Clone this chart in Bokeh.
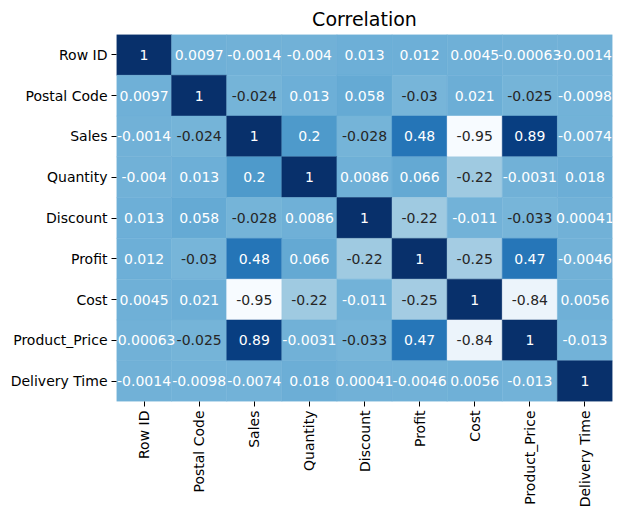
import math
from bokeh.plotting import figure
from bokeh.models import ColumnDataSource, Range1d, FixedTicker, LinearColorMapper
from bokeh.transform import transform
from bokeh.palettes import Blues256
from bokeh.core.properties import value
from bokeh.embed import file_html
from bokeh.resources import INLINE

labels = ["Row ID", "Postal Code", "Sales", "Quantity", "Discount", "Profit",
          "Cost", "Product_Price", "Delivery Time"]

row_id = [1, 0.0097, -0.0014, -0.004, 0.013, 0.012, 0.0045, -0.00063, -0.0014]
postal_code = [0.0097, 1, -0.024, 0.013, 0.058, -0.03, 0.021, -0.025, -0.0098]
sales = [-0.0014, -0.024, 1, 0.2, -0.028, 0.48, -0.95, 0.89, -0.0074]
quantity = [-0.004, 0.013, 0.2, 1, 0.0086, 0.066, -0.22, -0.0031, 0.018]
discount = [0.013, 0.058, -0.028, 0.0086, 1, -0.22, -0.011, -0.033, 0.00041]
profit = [0.012, -0.03, 0.48, 0.066, -0.22, 1, -0.25, 0.47, -0.0046]
cost = [0.0045, 0.021, -0.95, -0.22, -0.011, -0.25, 1, -0.84, 0.0056]
product_price = [-0.00063, -0.025, 0.89, -0.0031, -0.033, 0.47, -0.84, 1, -0.013]
delivery_time = [-0.0014, -0.0098, -0.0074, 0.018, 0.00041, -0.0046, 0.0056, -0.013, 1]

matrix = [row_id, postal_code, sales, quantity, discount, profit, cost,
          product_price, delivery_time]

palette = list(Blues256)[::-1]  # light -> dark
vmin = min(min(r) for r in matrix)
vmax = max(max(r) for r in matrix)

def color_for(v):
    t = (v - vmin) / (vmax - vmin)
    idx = min(int(t * len(palette)), len(palette) - 1)
    return palette[idx]

def lum(hexc):
    rgb = [int(hexc[i:i + 2], 16) / 255 for i in (1, 3, 5)]
    lin = [c / 12.92 if c <= 0.03928 else ((c + 0.055) / 1.055) ** 2.4 for c in rgb]
    return 0.2126 * lin[0] + 0.7152 * lin[1] + 0.0722 * lin[2]

xs, ys, vals, txt, tcol = [], [], [], [], []
for i, row in enumerate(matrix):
    for j, v in enumerate(row):
        xs.append(j + 0.5)
        ys.append(i + 0.5)
        vals.append(v)
        txt.append("{:.2g}".format(v))
        tcol.append("#262626" if lum(color_for(v)) > 0.408 else "#ffffff")

src = ColumnDataSource(dict(x=xs, y=ys, v=vals, t=txt, tc=tcol))
mapper = LinearColorMapper(palette=palette, low=vmin, high=vmax)

p = figure(width=620, height=516, output_backend="svg", toolbar_location=None,
           x_range=Range1d(0, 9), y_range=Range1d(9, 0),
           min_border_left=116, min_border_right=8, min_border_top=33,
           min_border_bottom=115)
p.title.text = "Correlation"
p.title.align = "center"
p.title.text_font_size = "19px"
p.title.text_font_style = "normal"
p.title.text_font = "DejaVu Sans"
p.title.text_color = "#000000"

p.rect(x="x", y="y", width=1, height=1, source=src,
       fill_color=transform("v", mapper), line_color=transform("v", mapper),
       line_width=0.5)
p.text(x="x", y="y", text="t", source=src, text_color="tc",
       text_align="center", text_baseline="middle",
       text_font=value("DejaVu Sans"), text_font_size="14px")

ticks = [k + 0.5 for k in range(9)]
for ax in (p.xaxis[0], p.yaxis[0]):
    ax.ticker = FixedTicker(ticks=ticks)
    ax.major_label_overrides = {t: labels[k] for k, t in enumerate(ticks)}
    ax.axis_line_color = None
    ax.minor_tick_line_color = None
    ax.major_tick_line_color = "#000000"
    ax.major_tick_out = 5
    ax.major_tick_in = 0
    ax.major_label_text_font = "DejaVu Sans"
    ax.major_label_text_font_size = "14px"
    ax.major_label_text_color = "#000000"
    ax.major_label_standoff = 4
p.xaxis.major_label_orientation = math.pi / 2
p.grid.visible = False
p.outline_line_color = None

open("out.html", "w").write(file_html(p, INLINE))
